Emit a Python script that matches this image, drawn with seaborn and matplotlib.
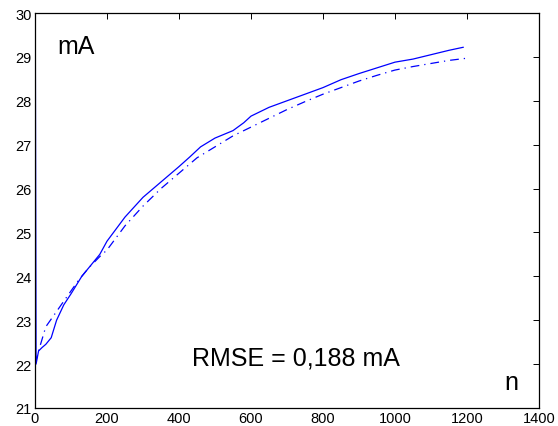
import matplotlib
matplotlib.use("Agg")
import matplotlib.pyplot as plt
import seaborn as sns
import pandas as pd

n_meas = [0, 1, 3, 10, 20, 30, 45, 60, 80, 100, 130, 150, 180, 200, 250, 300, 350, 400, 430, 460, 500, 550, 580, 600, 650, 700, 750, 800, 850, 900, 950, 1000, 1050, 1100, 1150, 1190]
i_meas = [26.6, 29.2, 22.0, 22.3, 22.38, 22.45, 22.6, 23.0, 23.35, 23.6, 24.0, 24.2, 24.5, 24.8, 25.35, 25.8, 26.15, 26.5, 26.72, 26.95, 27.15, 27.32, 27.5, 27.65, 27.85, 28.0, 28.15, 28.3, 28.48, 28.62, 28.75, 28.88, 28.95, 29.05, 29.15, 29.22]

n_model = [0, 10, 30, 60, 90, 120, 150, 180, 200, 250, 300, 350, 400, 450, 500, 550, 600, 650, 700, 750, 800, 850, 900, 950, 1000, 1050, 1100, 1150, 1200]
i_model = [22.0, 22.3, 22.85, 23.2, 23.55, 23.9, 24.2, 24.45, 24.6, 25.15, 25.6, 26.0, 26.35, 26.7, 26.95, 27.2, 27.4, 27.6, 27.8, 27.98, 28.15, 28.3, 28.45, 28.58, 28.7, 28.78, 28.85, 28.92, 28.97]

x_ticks = [0, 200, 400, 600, 800, 1000, 1200, 1400]
y_ticks = [21, 22, 23, 24, 25, 26, 27, 28, 29, 30]

sns.set_style("white")
plt.rcParams['font.family'] = ['Liberation Sans', 'DejaVu Sans']
plt.rcParams['text.color'] = 'black'

fig = plt.figure(figsize=(5.58, 4.27), dpi=100)
ax = fig.add_axes([0.0627, 0.0422, 0.9032, 0.925])

df1 = pd.DataFrame({"n": n_meas, "I": i_meas})
df2 = pd.DataFrame({"n": n_model, "I": i_model})
sns.lineplot(data=df1, x="n", y="I", ax=ax, color=(0, 0, 1), lw=0.9, sort=False, estimator=None)
sns.lineplot(data=df2, x="n", y="I", ax=ax, color=(0, 0, 1), lw=0.9, sort=False, estimator=None,
             linestyle=(0, (7, 4, 1, 4)))

ax.set_xlim(0, 1400)
ax.set_ylim(21, 30)
ax.set_xticks(x_ticks)
ax.set_yticks(y_ticks)
ax.set_xlabel("")
ax.set_ylabel("")
ax.tick_params(direction="in", length=4, width=0.7, top=True, right=True, labelsize=10.5, pad=2.5,
               colors="black", labelcolor="black")
for s in ax.spines.values():
    s.set_visible(True)
    s.set_color("black")
    s.set_linewidth(0.9)

ax.text(61, 29.08, "mA", fontsize=18, color="black")
ax.text(435, 21.98, "RMSE = 0,188 mA", fontsize=18, color="black")
ax.text(1303, 21.44, "n", fontsize=18, color="black")

fig.savefig("out.png", dpi=100)
